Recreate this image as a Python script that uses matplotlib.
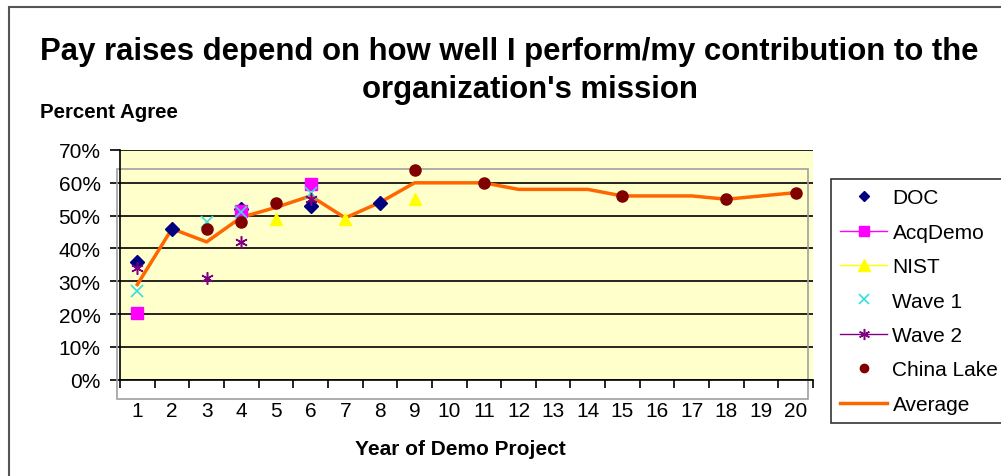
import matplotlib
matplotlib.use("Agg")
import matplotlib.pyplot as plt
from matplotlib.lines import Line2D
from matplotlib.patches import Rectangle
import numpy as np

plt.rcParams['font.family'] = ['Liberation Sans', 'DejaVu Sans']

nan = np.nan
years = list(range(1, 21))
year_labels = [str(y) for y in years]

# percent agree, one slot per demo year (nan = no survey that year)
doc = [36, 46, nan, 52, nan, 53, nan, 54, nan, nan,
       nan, nan, nan, nan, nan, nan, nan, nan, nan, nan]
acqdemo = [20.3, nan, nan, 51.5, nan, 59.5, nan, nan, nan, nan,
           nan, nan, nan, nan, nan, nan, nan, nan, nan, nan]
nist = [nan, nan, nan, nan, 49, nan, 49, nan, 55, nan,
        nan, nan, nan, nan, nan, nan, nan, nan, nan, nan]
wave1 = [27, nan, 48, 51, nan, 57, nan, nan, nan, nan,
         nan, nan, nan, nan, nan, nan, nan, nan, nan, nan]
wave2 = [34, nan, 31, 42, nan, 55, nan, nan, nan, nan,
         nan, nan, nan, nan, nan, nan, nan, nan, nan, nan]
china_lake = [nan, nan, 46, 48, 54, nan, nan, nan, 64, nan,
              60, nan, nan, nan, 56, nan, nan, 55, nan, 57]
average = [29, 46, 42, 49.5, 52.5, 56, 49.3, 54, 60, 60,
           60, 58, 58, 58, 56, 56, 56, 55, 56, 57]

fig = plt.figure(figsize=(10.01, 4.77), dpi=100)
ax = fig.add_axes([120 / 1001, (477 - 380.7) / 477, (813 - 120) / 1001, (380.7 - 151) / 477])
ax.set_facecolor('#FFFFCC')

x = np.array(years)

# odd grey inner frame from the original chart
ax.add_patch(Rectangle((117 / 1001, (477 - 400) / 477), (808 - 117) / 1001, (400 - 170) / 477,
                       transform=fig.transFigure, fill=False, edgecolor='#A0A0A0',
                       lw=1.2, clip_on=False, zorder=1))
# outer chart frame
fig.add_artist(Rectangle((9 / 1001, -0.1), 1.2, (477 - 8) / 477 + 0.1,
                         transform=fig.transFigure, fill=False, edgecolor='#555555', lw=1.5))

ax.plot(x, average, color='#FF6600', lw=2.5, zorder=3)
ax.plot(x, doc, ls='none', marker='D', ms=7, color='#000080', zorder=4)
ax.plot(x, acqdemo, ls='none', marker='s', ms=8, color='#FF00FF', zorder=4)
ax.plot(x, nist, ls='none', marker='^', ms=9, color='#FFFF00', zorder=4)
ax.plot(x, wave1, ls='none', marker='x', ms=8, mew=1.2, color='#33E0E0', zorder=4)
ax.plot(x, wave2, ls='none', marker=(6, 2, 0), ms=9, mew=1.1, color='#800080', zorder=4)
ax.plot(x, china_lake, ls='none', marker='o', ms=8, color='#800000', zorder=4)

ax.set_xlim(0.5, 20.5)
ax.set_ylim(0, 70)
ax.set_yticks(range(0, 71, 10))
ax.set_yticklabels(['%d%%' % v for v in range(0, 71, 10)], fontsize=15)
ax.set_xticks(years)
ax.set_xticklabels(year_labels, fontsize=15)
ax.set_xticks(np.arange(0.5, 21, 1), minor=True)
ax.tick_params(axis='x', which='major', length=0, pad=15)
ax.tick_params(axis='x', which='minor', length=6, width=1.2, direction='out')
ax.tick_params(axis='y', length=7, width=1.2, direction='out', pad=7)
ax.grid(axis='y', color='black', lw=1.2, zorder=1)
ax.set_axisbelow(True)
for s in ['top', 'right']:
    ax.spines[s].set_visible(False)
ax.spines['left'].set_linewidth(1.2)
ax.spines['bottom'].set_linewidth(1.2)

fig.text(509 / 1001, 1 - 52 / 477, 'Pay raises depend on how well I perform/my contribution to the',
         ha='center', va='center', fontsize=22.4, fontweight='bold')
fig.text(530 / 1001, 1 - 90 / 477, "organization's mission",
         ha='center', va='center', fontsize=22.4, fontweight='bold')
fig.text(40 / 1001, 1 - 113 / 477, 'Percent Agree', ha='left', va='center',
         fontsize=14.8, fontweight='bold')
fig.text(460 / 1001, 1 - 450 / 477, 'Year of Demo Project', ha='center', va='center',
         fontsize=15, fontweight='bold')

handles = [
    Line2D([], [], ls='none', marker='D', ms=5, color='#000080'),
    Line2D([], [], color='#FF00FF', lw=1, marker='s', ms=7),
    Line2D([], [], color='#FFFF00', lw=1, marker='^', ms=8),
    Line2D([], [], ls='none', marker='x', ms=7, mew=1.2, color='#33E0E0'),
    Line2D([], [], color='#800080', lw=1, marker=(6, 2, 0), ms=8, mew=1.1),
    Line2D([], [], ls='none', marker='o', ms=6, color='#800000'),
    Line2D([], [], color='#FF6600', lw=2.5),
]
labels = ['DOC', 'AcqDemo', 'NIST', 'Wave 1', 'Wave 2', 'China Lake', 'Average']
leg = fig.legend(handles, labels, loc='upper left', bbox_to_anchor=(831 / 1001, 1 - 180 / 477),
                 fontsize=15, frameon=True, fancybox=False, edgecolor='black',
                 handlelength=2.25, handletextpad=0.25, labelspacing=0.74,
                 borderpad=0.45, borderaxespad=0)
leg.get_frame().set_linewidth(1.2)

fig.savefig('out.png', dpi=100)
